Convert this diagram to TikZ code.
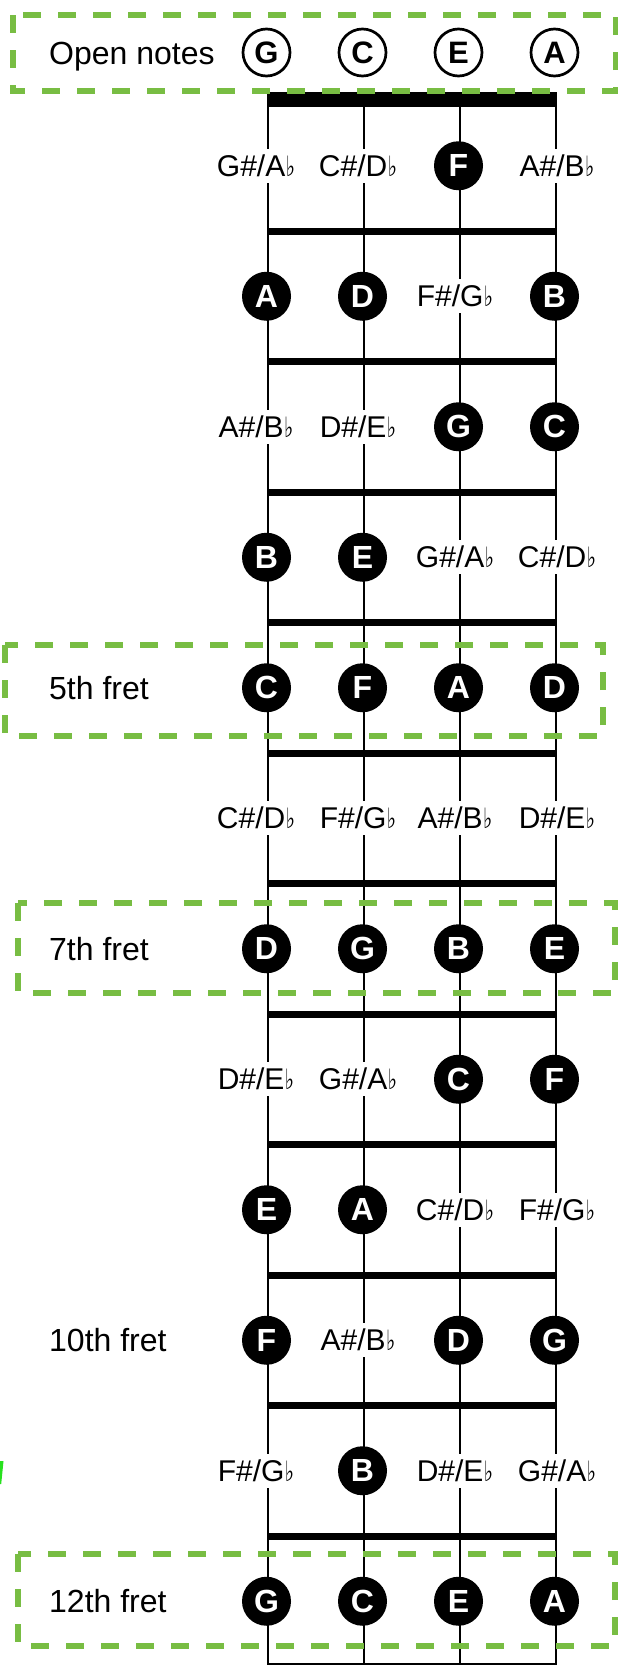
\documentclass[tikz,border=0pt]{standalone}
\usepackage{fontspec}
\setmainfont{Liberation Sans}
\newfontfamily\symf{DejaVu Sans}
\usepackage{graphicx}
\definecolor{boxgreen}{RGB}{120,189,67}
\definecolor{artgreen}{RGB}{40,225,30}
\newcommand{\fl}{\kern0.5pt\scalebox{0.7}[1]{\symf\fontsize{28}{30}\selectfont ♭}}
\newcommand{\nt}[3]{\node[notec] (n#1-#2) at ({170.5+96*#2},{35.25+130.5*#1}) {#3};}
\newcommand{\sh}[4]{%
  \ifcase#2\or\def\xo{-12}\or\def\xo{-6}\or\def\xo{-5}\or\def\xo{1}\fi
  \node[sharpc] (n#1-#2) at ({172+96*#2+\xo},{35.25+130.5*#1}) {#3\#/#4\fl};}
\newcommand{\lb}[3]{\node[lbl] (#1) at (49,{46.75+130.5*#2}) {#3};}
\begin{document}
\begin{tikzpicture}[x=1pt,y=-1pt,
  notec/.style={circle,fill=black,minimum size=49pt,inner sep=0pt,text=white,font=\fontsize{32}{34}\selectfont\bfseries},
  openc/.style={circle,draw=black,line width=2.7pt,fill=white,minimum size=47pt,inner sep=0pt,font=\fontsize{31}{34}\selectfont\bfseries},
  sharpc/.style={fill=white,inner xsep=2pt,inner ysep=6pt,font=\fontsize{30}{32}\selectfont},
  lbl/.style={anchor=base west,inner sep=0pt,font=\fontsize{32}{36}\selectfont},
  gbox/.style={draw=boxgreen,line width=5.5pt,dash pattern=on 18pt off 17pt},
  stringl/.style={line width=2.2pt},
  fretl/.style={line width=7pt}
]
\useasboundingbox (0,0) rectangle (618,1665);
\clip (0,0) rectangle (618,1665);
% strings
\foreach \s in {1,...,4} \draw[stringl] ({172+96*\s},92) -- ({172+96*\s},1670);
% frets
\foreach \k in {1,...,12} \draw[fretl] (267,{100.5+130.5*\k}) -- (557,{100.5+130.5*\k});
% nut
\fill (267,92) rectangle (557,107);
% open notes
\node[openc] (o1) at (266.5,52.5) {G};
\node[openc] (o2) at (362.5,52.5) {C};
\node[openc] (o3) at (458.5,52.5) {E};
\node[openc] (o4) at (554.5,52.5) {A};
\node[lbl] (lopen) at (49,64) {Open notes};
% rows
\sh{1}{1}{G}{A} \sh{1}{2}{C}{D} \nt{1}{3}{F} \sh{1}{4}{A}{B}
\nt{2}{1}{A} \nt{2}{2}{D} \sh{2}{3}{F}{G} \nt{2}{4}{B}
\sh{3}{1}{A}{B} \sh{3}{2}{D}{E} \nt{3}{3}{G} \nt{3}{4}{C}
\nt{4}{1}{B} \nt{4}{2}{E} \sh{4}{3}{G}{A} \sh{4}{4}{C}{D}
\nt{5}{1}{C} \nt{5}{2}{F} \nt{5}{3}{A} \nt{5}{4}{D}
\sh{6}{1}{C}{D} \sh{6}{2}{F}{G} \sh{6}{3}{A}{B} \sh{6}{4}{D}{E}
\nt{7}{1}{D} \nt{7}{2}{G} \nt{7}{3}{B} \nt{7}{4}{E}
\sh{8}{1}{D}{E} \sh{8}{2}{G}{A} \nt{8}{3}{C} \nt{8}{4}{F}
\nt{9}{1}{E} \nt{9}{2}{A} \sh{9}{3}{C}{D} \sh{9}{4}{F}{G}
\nt{10}{1}{F} \sh{10}{2}{A}{B} \nt{10}{3}{D} \nt{10}{4}{G}
\sh{11}{1}{F}{G} \nt{11}{2}{B} \sh{11}{3}{D}{E} \sh{11}{4}{G}{A}
\nt{12}{1}{G} \nt{12}{2}{C} \nt{12}{3}{E} \nt{12}{4}{A}
% left labels
\lb{l5}{5}{5th fret}
\lb{l7}{7}{7th fret}
\lb{l10}{10}{10th fret}
\lb{l12}{12}{12th fret}
% green boxes
\draw[gbox] (13,15) rectangle (616,91);
\draw[gbox] (5,645) rectangle (603,736);
\draw[gbox] (18,903) rectangle (615,993);
\draw[gbox] (18,1554) rectangle (615,1646);
% stray mark
\fill[artgreen] (0,1461) -- (3.5,1461) -- (1.2,1484) -- (0,1484) -- cycle;
\end{tikzpicture}
\end{document}
